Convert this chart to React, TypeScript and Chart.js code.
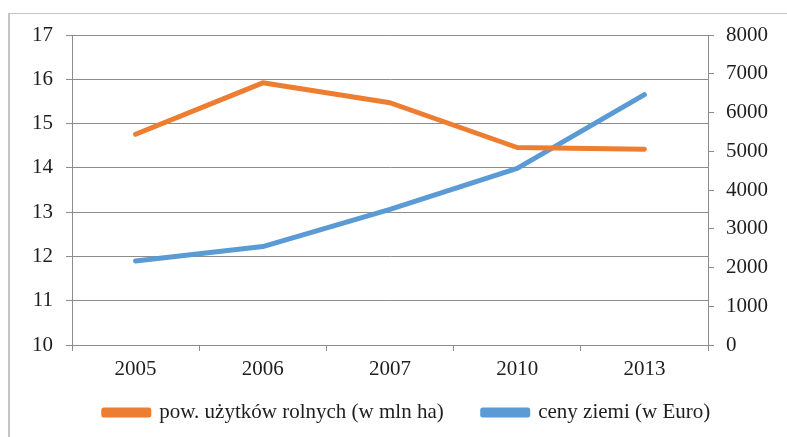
import React, { useEffect, useRef } from "react";
import { Chart, registerables } from "chart.js";

Chart.register(...registerables);

const categories = ["2005", "2006", "2007", "2010", "2013"];
const areaLabel = "pow. użytków rolnych (w mln ha)";
const areaValues = [14.76, 15.92, 15.47, 14.46, 14.42];
const priceLabel = "ceny ziemi (w Euro)";
const priceValues = [2170, 2540, 3500, 4560, 6460];

const ORANGE = "#ED7D31";
const BLUE = "#5B9BD5";
const GRID = "#8c8c8c";
const TEXT = "#1e1e1e";
const FONT = "Liberation Serif";
const FS = 21;

const legendShift = {
  id: "legendShift",
  afterLayout(chart: any) {
    const l = chart.legend;
    if (l) {
      l.top -= 17;
      l.bottom = chart.height;
      l.height = l.bottom - l.top;
    }
  },
};

export default function App() {
  const ref = useRef<HTMLCanvasElement | null>(null);

  useEffect(() => {
    let chart: Chart | null = null;
    let cancelled = false;
    const make = () => {
      if (cancelled || !ref.current) return;
      Chart.defaults.font.family = FONT;
      chart = new Chart(ref.current, {
        type: "line",
        data: {
          labels: categories,
          datasets: [
            {
              label: areaLabel,
              data: areaValues,
              borderColor: ORANGE,
              backgroundColor: ORANGE,
              borderWidth: 5,
              borderCapStyle: "round",
              borderJoinStyle: "round",
              pointRadius: 0,
              tension: 0,
              yAxisID: "y",
            },
            {
              label: priceLabel,
              data: priceValues,
              borderColor: BLUE,
              backgroundColor: BLUE,
              borderWidth: 5,
              borderCapStyle: "round",
              borderJoinStyle: "round",
              pointRadius: 0,
              tension: 0,
              yAxisID: "y1",
            },
          ],
        },
        options: {
          animation: false,
          responsive: false,
          maintainAspectRatio: false,
          layout: { padding: { left: 27, right: 0, top: 35, bottom: 0 } },
          plugins: {
            tooltip: { enabled: false },
            legend: {
              position: "bottom",
              maxHeight: 57,
              labels: {
                font: { family: FONT, size: FS },
                color: TEXT,
                boxWidth: 45,
                boxHeight: 5,
                padding: 39,
              },
            },
          },
          scales: {
            x: {
              offset: true,
              grid: {
                offset: true,
                drawOnChartArea: false,
                drawTicks: true,
                tickLength: 6,
                color: GRID,
              },
              border: { color: GRID, width: 1 },
              ticks: { font: { family: FONT, size: FS }, color: TEXT, padding: 6 },
              afterFit: (s: any) => {
                s.height = 35;
              },
            },
            y: {
              position: "left",
              min: 10,
              max: 17,
              ticks: { stepSize: 1, font: { family: FONT, size: FS }, color: TEXT, padding: 13 },
              grid: { color: GRID, tickLength: 6 },
              border: { color: GRID, width: 1 },
              afterFit: (s: any) => {
                s.width = 45;
              },
            },
            y1: {
              position: "right",
              min: 0,
              max: 8000,
              ticks: {
                stepSize: 1000,
                font: { family: FONT, size: FS },
                color: TEXT,
                padding: 12,
                callback: (v: any) => String(v),
              },
              grid: { drawOnChartArea: false, color: GRID, tickLength: 6 },
              border: { color: GRID, width: 1 },
              afterFit: (s: any) => {
                s.width = 79;
              },
            },
          },
        },
        plugins: [legendShift],
      });
    };
    const fonts: any = (document as any).fonts;
    if (fonts && fonts.load) {
      fonts.load(`${FS}px "${FONT}"`).then(make, make);
    } else {
      make();
    }
    return () => {
      cancelled = true;
      if (chart) chart.destroy();
    };
  }, []);

  return (
    <>
      <div
        style={{
          position: "fixed",
          left: 8,
          top: 13,
          width: 800,
          height: 440,
          borderTop: "1px solid #c4c4c4",
          borderLeft: "2px solid #c4c4c4",
          boxSizing: "border-box",
          background: "#fff",
        }}
      />
      <canvas
        ref={ref}
        width={787}
        height={437}
        style={{ position: "fixed", left: 0, top: 0, width: 787, height: 437 }}
      />
    </>
  );
}
